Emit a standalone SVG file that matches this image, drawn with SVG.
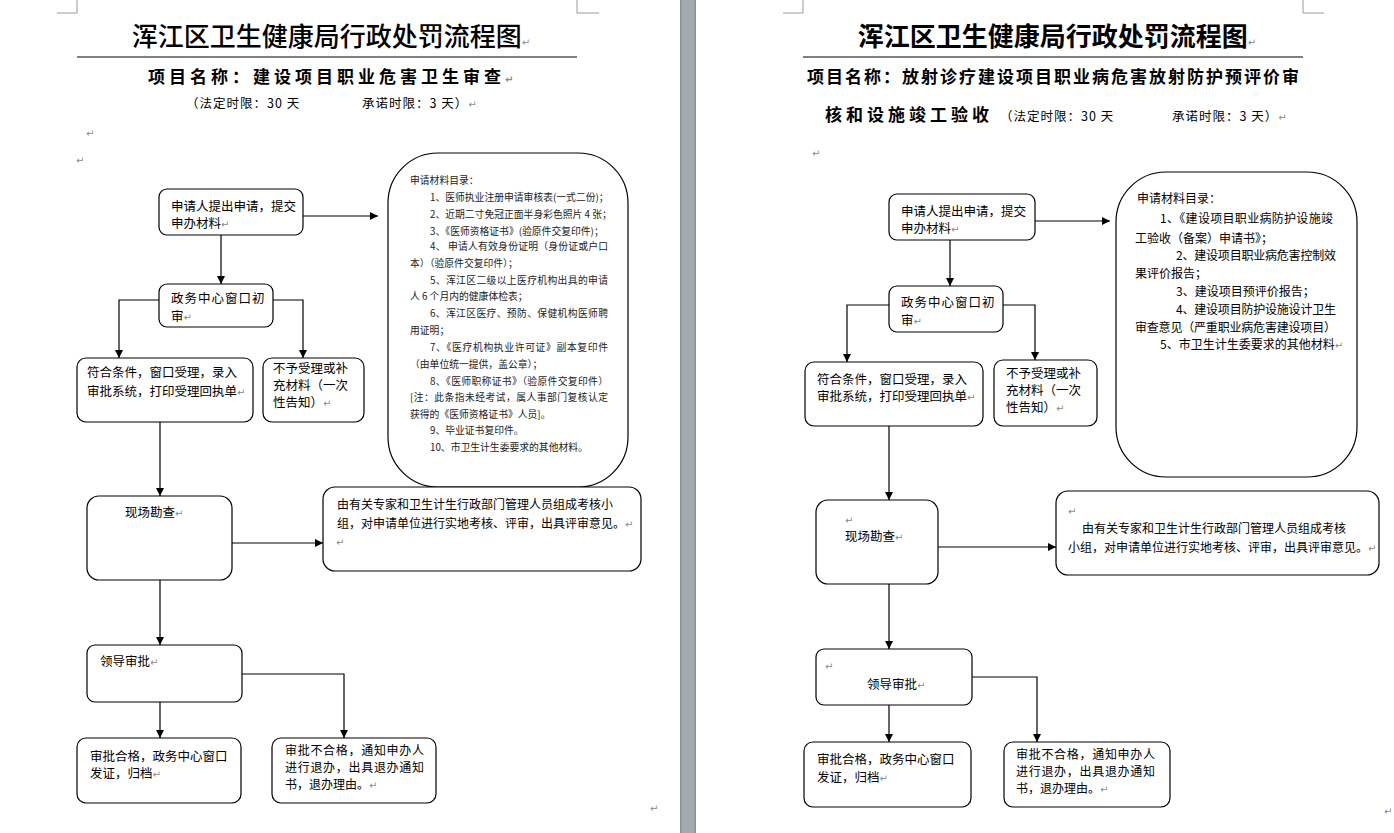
<svg xmlns="http://www.w3.org/2000/svg" width="1394" height="833" viewBox="0 0 1394 833">
<style>
text{font-family:"Noto Sans CJK SC","Liberation Sans",sans-serif;fill:#000}
.box{fill:#fff;stroke:#000;stroke-width:1.2}
.ln{fill:none;stroke:#000;stroke-width:1.2}
.t{font-size:12.5px}
.f{font-size:12px}
.m{font-size:9.8px;fill:#222}
.m2{font-size:12px}
.pm{fill:#8a8a8a;font-family:"DejaVu Sans",sans-serif;font-size:10px}
.title{font-size:26px;font-weight:500}
.title2{font-size:26px;font-weight:700}
.sub{font-size:17px;font-weight:700}
.tm{font-size:12.5px}
.crn{fill:none;stroke:#9a9a9a;stroke-width:1}
</style>
<defs>
<marker id="ah" markerUnits="userSpaceOnUse" markerWidth="9" markerHeight="9" refX="8" refY="4" orient="auto">
<path d="M0,0 L8,4 L0,8 z" fill="#000"/>
</marker>
</defs>
<rect x="0" y="0" width="1394" height="833" fill="#fff"/>
<rect x="680" y="0" width="16" height="833" fill="#a5a9ad"/>
<rect x="680" y="0" width="1.5" height="833" fill="#8d9196"/>
<rect x="694.5" y="0" width="1.5" height="833" fill="#8d9196"/>

<!-- Left page header -->
<g id="left-header">
<path class="crn" d="M57,13 H77 V0"/>
<path class="crn" d="M599,13 H577 V0"/>
<text class="title" x="331" y="46" text-anchor="middle">浑江区卫生健康局行政处罚流程图<tspan class="pm">↵</tspan></text>
<line x1="77" y1="57" x2="577" y2="57" stroke="#000" stroke-width="1.2"/>
<text class="sub" x="148" y="83" letter-spacing="4">项目名称：建设项目职业危害卫生审查<tspan class="pm" letter-spacing="0">↵</tspan></text>
<text class="tm" x="186" y="108" letter-spacing="1">（法定时限：30 天</text>
<text class="tm" x="362" y="108" letter-spacing="1">承诺时限：3 天）<tspan class="pm" letter-spacing="0">↵</tspan></text>
<text class="pm" x="86" y="137">↵</text>
<text class="pm" x="76" y="164">↵</text>
</g>

<!-- Left page connectors -->
<g id="left-connectors">
<path class="ln" d="M303,216 H378" marker-end="url(#ah)"/>
<path class="ln" d="M221,235 V284" marker-end="url(#ah)"/>
<path class="ln" d="M159,300 H119 V358" marker-end="url(#ah)"/>
<path class="ln" d="M273,300 H303 V358" marker-end="url(#ah)"/>
<path class="ln" d="M160,422 V496" marker-end="url(#ah)"/>
<path class="ln" d="M232,543 H323" marker-end="url(#ah)"/>
<path class="ln" d="M160,580 V645" marker-end="url(#ah)"/>
<path class="ln" d="M160,702 V738" marker-end="url(#ah)"/>
<path class="ln" d="M242,674 H344 V738" marker-end="url(#ah)"/>
</g>

<g id="L-apply">
<rect class="box" x="159" y="189" width="144" height="46" rx="8"/>
<text class="t" x="171" y="211">申请人提出申请，提交</text>
<text class="t" x="171" y="228">申办材料<tspan class="pm">↵</tspan></text>
</g>
<g id="L-initial">
<rect class="box" x="159" y="284" width="114" height="43" rx="8"/>
<text class="t" x="171" y="303" letter-spacing="1">政务中心窗口初</text>
<text class="t" x="171" y="321">审<tspan class="pm">↵</tspan></text>
</g>
<g id="L-accept">
<rect class="box" x="77" y="358" width="176" height="64" rx="9"/>
<text class="t" x="87" y="377">符合条件，窗口受理，录入</text>
<text class="t" x="87" y="396">审批系统，打印受理回执单<tspan class="pm">↵</tspan></text>
</g>
<g id="L-reject">
<rect class="box" x="263" y="358" width="101" height="64" rx="9"/>
<text class="t" x="273" y="373">不予受理或补</text>
<text class="t" x="273" y="390">充材料（一次</text>
<text class="t" x="273" y="407">性告知）<tspan class="pm">↵</tspan></text>
</g>
<g id="L-materials">
<rect class="box" x="388" y="153" width="240" height="334" rx="50"/>
<text class="m" x="410" y="184">申请材料目录：</text>
<text class="m" x="430" y="201">1、医师执业注册申请审核表(一式二份)；</text>
<text class="m" x="430" y="218">2、近期二寸免冠正面半身彩色照片 4 张；</text>
<text class="m" x="430" y="235">3、《医师资格证书》(验原件交复印件)；</text>
<text class="m" x="430" y="250" textLength="178" lengthAdjust="spacing">4、 申请人有效身份证明（身份证或户口</text>
<text class="m" x="410" y="267">本）（验原件交复印件）；</text>
<text class="m" x="430" y="284" textLength="178" lengthAdjust="spacing">5、浑江区二级以上医疗机构出具的申请</text>
<text class="m" x="410" y="300">人 6 个月内的健康体检表；</text>
<text class="m" x="430" y="317" textLength="178" lengthAdjust="spacing">6、浑江区医疗、预防、保健机构医师聘</text>
<text class="m" x="410" y="334">用证明；</text>
<text class="m" x="430" y="351" textLength="178" lengthAdjust="spacing">7、《医疗机构执业许可证》副本复印件</text>
<text class="m" x="410" y="368">（由单位统一提供，盖公章）；</text>
<text class="m" x="430" y="385" textLength="178" lengthAdjust="spacing">8、《医师职称证书》（验原件交复印件）</text>
<text class="m" x="410" y="401" textLength="198" lengthAdjust="spacing">[注：此条指未经考试，属人事部门复核认定</text>
<text class="m" x="410" y="418">获得的《医师资格证书》人员]。</text>
<text class="m" x="430" y="434">9、毕业证书复印件。</text>
<text class="m" x="430" y="451">10、市卫生计生委要求的其他材料。</text>
</g>
<g id="L-survey">
<rect class="box" x="87" y="496" width="145" height="84" rx="12"/>
<text class="t" x="125" y="517">现场勘查<tspan class="pm">↵</tspan></text>
</g>
<g id="L-expert">
<rect class="box" x="323" y="487" width="318" height="84" rx="12"/>
<text class="f" x="337" y="509">由有关专家和卫生计生行政部门管理人员组成考核小</text>
<text class="f" x="337" y="528">组，对申请单位进行实地考核、评审，出具评审意见。<tspan class="pm">↵</tspan></text>
<text class="pm" x="336" y="546">↵</text>
</g>
<g id="L-leader">
<rect class="box" x="87" y="645" width="155" height="57" rx="8"/>
<text class="t" x="100" y="666">领导审批<tspan class="pm">↵</tspan></text>
</g>
<g id="L-pass">
<rect class="box" x="77" y="738" width="164" height="65" rx="9"/>
<text class="t" x="90" y="761">审批合格，政务中心窗口</text>
<text class="t" x="90" y="778">发证，归档<tspan class="pm">↵</tspan></text>
</g>
<g id="L-fail">
<rect class="box" x="272" y="738" width="164" height="65" rx="9"/>
<text class="f" x="285" y="755" textLength="139" lengthAdjust="spacing">审批不合格，通知申办人</text>
<text class="f" x="285" y="772" textLength="139" lengthAdjust="spacing">进行退办，出具退办通知</text>
<text class="f" x="285" y="789">书，退办理由。<tspan class="pm">↵</tspan></text>
</g>
<text class="pm" x="650" y="812">↵</text>

<!-- Right page header -->
<g id="right-header">
<path class="crn" d="M783,13 H803 V0"/>
<path class="crn" d="M1324,13 H1303 V0"/>
<text class="title2" x="1057" y="46" text-anchor="middle">浑江区卫生健康局行政处罚流程图<tspan class="pm" font-weight="400">↵</tspan></text>
<line x1="803" y1="57" x2="1303" y2="57" stroke="#000" stroke-width="1.2"/>
<text class="sub" x="807" y="83" letter-spacing="2">项目名称：放射诊疗建设项目职业病危害放射防护预评价审</text>
<text class="sub" x="825" y="121" font-size="18" letter-spacing="4">核和设施竣工验收</text>
<text class="tm" x="1000" y="121" letter-spacing="1">（法定时限：30 天</text>
<text class="tm" x="1172" y="121" letter-spacing="1">承诺时限：3 天）<tspan class="pm" letter-spacing="0">↵</tspan></text>
<text class="pm" x="812" y="157">↵</text>
</g>

<!-- Right page connectors -->
<g id="right-connectors">
<path class="ln" d="M1035,221 H1110" marker-end="url(#ah)"/>
<path class="ln" d="M950,240 V286" marker-end="url(#ah)"/>
<path class="ln" d="M889,305 H847 V362" marker-end="url(#ah)"/>
<path class="ln" d="M1003,305 H1035 V360" marker-end="url(#ah)"/>
<path class="ln" d="M889,426 V500" marker-end="url(#ah)"/>
<path class="ln" d="M938,547 H1056" marker-end="url(#ah)"/>
<path class="ln" d="M889,584 V649" marker-end="url(#ah)"/>
<path class="ln" d="M889,705 V742" marker-end="url(#ah)"/>
<path class="ln" d="M972,677 H1037 V742" marker-end="url(#ah)"/>
</g>

<g id="R-apply">
<rect class="box" x="889" y="194" width="146" height="46" rx="8"/>
<text class="t" x="901" y="216">申请人提出申请，提交</text>
<text class="t" x="901" y="233">申办材料<tspan class="pm">↵</tspan></text>
</g>
<g id="R-initial">
<rect class="box" x="889" y="286" width="114" height="46" rx="8"/>
<text class="t" x="901" y="307" letter-spacing="1">政务中心窗口初</text>
<text class="t" x="901" y="325">审<tspan class="pm">↵</tspan></text>
</g>
<g id="R-accept">
<rect class="box" x="805" y="362" width="178" height="64" rx="9"/>
<text class="t" x="817" y="384">符合条件，窗口受理，录入</text>
<text class="t" x="817" y="401">审批系统，打印受理回执单<tspan class="pm">↵</tspan></text>
</g>
<g id="R-reject">
<rect class="box" x="994" y="360" width="103" height="66" rx="9"/>
<text class="t" x="1006" y="378">不予受理或补</text>
<text class="t" x="1006" y="395">充材料（一次</text>
<text class="t" x="1006" y="412">性告知）<tspan class="pm">↵</tspan></text>
</g>
<g id="R-materials">
<rect class="box" x="1116" y="172" width="241" height="305" rx="50"/>
<text class="m2" x="1137" y="203" font-size="11">申请材料目录：</text>
<text class="m2" x="1160" y="223" textLength="173" lengthAdjust="spacing">1、《建设项目职业病防护设施竣</text>
<text class="m2" x="1135" y="243">工验收（备案）申请书》；</text>
<text class="m2" x="1176" y="260" textLength="160" lengthAdjust="spacing">2、建设项目职业病危害控制效</text>
<text class="m2" x="1135" y="278">果评价报告；</text>
<text class="m2" x="1176" y="296">3、建设项目预评价报告；</text>
<text class="m2" x="1176" y="314" textLength="160" lengthAdjust="spacing">4、建设项目防护设施设计卫生</text>
<text class="m2" x="1135" y="332" textLength="201" lengthAdjust="spacing">审查意见（严重职业病危害建设项目）</text>
<text class="m2" x="1160" y="349">5、市卫生计生委要求的其他材料<tspan class="pm">↵</tspan></text>
</g>
<g id="R-survey">
<rect class="box" x="816" y="500" width="122" height="84" rx="12"/>
<text class="pm" x="845" y="524">↵</text>
<text class="t" x="845" y="541">现场勘查<tspan class="pm">↵</tspan></text>
</g>
<g id="R-expert">
<rect class="box" x="1056" y="491" width="323" height="84" rx="12"/>
<text class="pm" x="1068" y="515">↵</text>
<text class="f" x="1082" y="533">由有关专家和卫生计生行政部门管理人员组成考核</text>
<text class="f" x="1068" y="552">小组，对申请单位进行实地考核、评审，出具评审意见。<tspan class="pm">↵</tspan></text>
</g>
<g id="R-leader">
<rect class="box" x="816" y="649" width="156" height="56" rx="8"/>
<text class="pm" x="825" y="670">↵</text>
<text class="t" x="867" y="689">领导审批<tspan class="pm">↵</tspan></text>
</g>
<g id="R-pass">
<rect class="box" x="804" y="742" width="167" height="65" rx="9"/>
<text class="t" x="817" y="764">审批合格，政务中心窗口</text>
<text class="t" x="817" y="782">发证，归档<tspan class="pm">↵</tspan></text>
</g>
<g id="R-fail">
<rect class="box" x="1004" y="742" width="166" height="65" rx="9"/>
<text class="f" x="1016" y="759" textLength="139" lengthAdjust="spacing">审批不合格，通知申办人</text>
<text class="f" x="1016" y="776" textLength="139" lengthAdjust="spacing">进行退办，出具退办通知</text>
<text class="f" x="1016" y="793">书，退办理由。<tspan class="pm">↵</tspan></text>
</g>
<text class="pm" x="1384" y="815">↵</text>
</svg>
